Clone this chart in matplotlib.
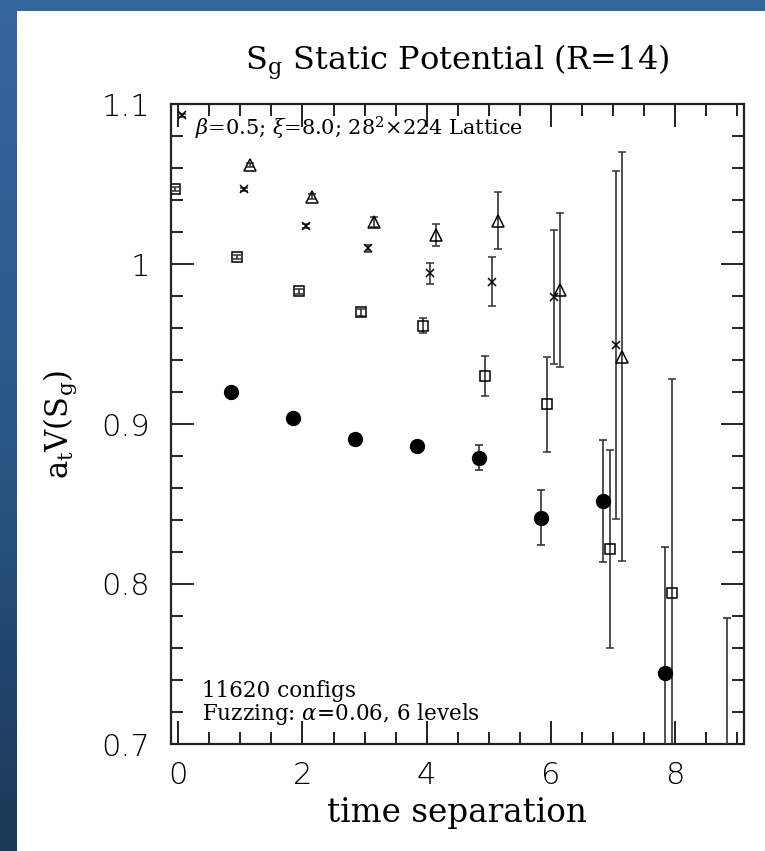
import numpy as np
import matplotlib
matplotlib.use('Agg')
import matplotlib.pyplot as plt
from matplotlib.ticker import MultipleLocator, FixedLocator, FixedFormatter
from matplotlib.colors import LinearSegmentedColormap
from matplotlib.patches import Rectangle

# ---------------- data ----------------
# filled circles (plotted at t - 0.15)
t_circ = [1, 2, 3, 4, 5, 6, 7, 8, 9]
v_circ = [0.9202, 0.9036, 0.8904, 0.8865, 0.8790, 0.8414, 0.8519, 0.7442, 0.629]
e_circ = [0.0015, 0.0015, 0.0015, 0.0020, 0.0078, 0.0172, 0.0380, 0.0790, 0.150]

# open squares (plotted at t - 0.05)
t_sq = [0, 1, 2, 3, 4, 5, 6, 7, 8]
v_sq = [1.0469, 1.0042, 0.9829, 0.9698, 0.9615, 0.9300, 0.9123, 0.8219, 0.7942]
e_sq = [0.0010, 0.0012, 0.0015, 0.0020, 0.0047, 0.0125, 0.0297, 0.0620, 0.1340]

# crosses (plotted at t + 0.05)
t_x = [0, 1, 2, 3, 4, 5, 6, 7]
v_x = [1.0930, 1.0467, 1.0238, 1.0098, 0.9942, 0.9889, 0.9792, 0.9494]
e_x = [0.0010, 0.0010, 0.0012, 0.0020, 0.0066, 0.0152, 0.0420, 0.1090]

# open triangles (plotted at t + 0.15)
t_tri = [1, 2, 3, 4, 5, 6, 7]
v_tri = [1.0619, 1.0421, 1.0264, 1.0181, 1.0271, 0.9838, 0.9421]
e_tri = [0.0010, 0.0015, 0.0030, 0.0068, 0.0176, 0.0480, 0.1280]

x_ticks = [0, 2, 4, 6, 8]
y_ticks = [0.7, 0.8, 0.9, 1.0, 1.1]
y_tick_labels = ['0.7', '0.8', '0.9', '1', '1.1']

title = r'S$_\mathregular{g}$ Static Potential (R=14)'
xlabel = 'time separation'
ylabel = r'a$_\mathregular{t}$V(S$_\mathregular{g}$)'
info_top = r'$\beta$=0.5; $\xi$=8.0; 28$^\mathregular{2}$×224 Lattice'
info_bot1 = '11620 configs'
info_bot2 = r'Fuzzing: $\alpha$=0.06, 6 levels'

# ---------------- figure ----------------
plt.rcParams['font.family'] = ['DejaVu Serif']
plt.rcParams['mathtext.fontset'] = 'dejavuserif'

W, H = 765, 851
fig = plt.figure(figsize=(W / 100, H / 100), dpi=100)
fig.patch.set_facecolor('white')

# blue frame decoration (left gradient strip, top strip)
bax = fig.add_axes([0, 0, 17 / W, 1])
cmap = LinearSegmentedColormap.from_list('frame', ['#35679c', '#2a5888', '#1b3857'])
bax.imshow(np.linspace(0, 1, 256).reshape(-1, 1), aspect='auto', cmap=cmap)
bax.axis('off')
fig.add_artist(Rectangle((0, 1 - 11 / H), 1, 11 / H, transform=fig.transFigure,
                         facecolor='#33669a', edgecolor='none', zorder=5))

left, right, bottom, top = 171, 743.5, 744, 104
ax = fig.add_axes([left / W, 1 - bottom / H, (right - left) / W, (bottom - top) / H])

ecol = '#333333'
common = dict(ls='none', ecolor=ecol, elinewidth=1.2, capsize=2.6, capthick=1.2)

ax.errorbar(np.array(t_circ) - 0.15, v_circ, yerr=e_circ, fmt='o', ms=10,
            mfc='black', mec='black', **common, zorder=3)
ax.errorbar(np.array(t_sq) - 0.05, v_sq, yerr=e_sq, fmt='s', ms=6.5,
            mfc='none', mec='black', mew=1.1, **common, zorder=3)
ax.errorbar(np.array(t_x) + 0.05, v_x, yerr=e_x, fmt='x', ms=6,
            mfc='none', mec='black', mew=1.1, **common, zorder=3)
ax.errorbar(np.array(t_tri) + 0.15, v_tri, yerr=e_tri, fmt='^', ms=8,
            mfc='none', mec='black', mew=1.1, **common, zorder=3)

ax.set_xlim(-0.12, 9.11)
ax.set_ylim(0.7, 1.1)

ax.xaxis.set_major_locator(FixedLocator(x_ticks))
ax.xaxis.set_minor_locator(MultipleLocator(0.5))
ax.yaxis.set_major_locator(FixedLocator(y_ticks))
ax.yaxis.set_major_formatter(FixedFormatter(y_tick_labels))
ax.yaxis.set_minor_locator(MultipleLocator(0.02))

ax.tick_params(which='both', direction='in', top=True, right=True, width=1.4,
               color='#222222')
ax.tick_params(which='major', length=16.5)
ax.tick_params(which='minor', length=8.5)
ax.tick_params(axis='x', which='major', labelsize=22, pad=12,
               labelfontfamily='DejaVu Sans')
ax.tick_params(axis='y', which='major', labelsize=22, pad=15,
               labelfontfamily='DejaVu Sans')
for lab in ax.get_xticklabels() + ax.get_yticklabels():
    lab.set_fontweight('light')

for sp in ax.spines.values():
    sp.set_linewidth(1.6)
    sp.set_color('#222222')

ax.set_xlabel(xlabel, fontsize=23.5)
ax.xaxis.set_label_coords(0.5, (bottom - 813) / (bottom - top))
ax.xaxis.label.set_va('center')
ax.set_ylabel(ylabel, fontsize=22)
ax.yaxis.set_label_coords((60 - left) / (right - left), 0.5)
ax.yaxis.label.set_va('center')

fig.text(457 / W, 1 - 62 / H, title, fontsize=23, ha='center', va='center')

ax.text((195 - left) / (right - left), (bottom - 135) / (bottom - top), info_top,
        transform=ax.transAxes, fontsize=15, ha='left', va='baseline')
ax.text((202 - left) / (right - left), (bottom - 697) / (bottom - top), info_bot1,
        transform=ax.transAxes, fontsize=15.5, ha='left', va='baseline')
ax.text((202 - left) / (right - left), (bottom - 720) / (bottom - top), info_bot2,
        transform=ax.transAxes, fontsize=15.5, ha='left', va='baseline')

fig.savefig('out.png', dpi=100)
